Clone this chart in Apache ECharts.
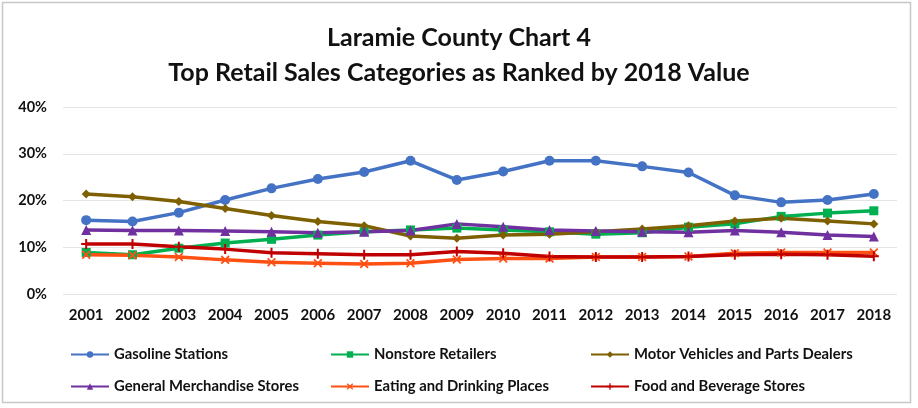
<!DOCTYPE html>
<html>
<head>
<meta charset="utf-8">
<script src="https://cdn.jsdelivr.net/npm/echarts@6/dist/echarts.min.js"></script>
<style>
  html, body { margin: 0; padding: 0; background: #fff; }
  #chart { width: 918px; height: 408px; }
</style>
</head>
<body>
<div id="chart"></div>
<script>
// Share of county retail sales by category, 2001-2018 (percent)
const years = ['2001','2002','2003','2004','2005','2006','2007','2008','2009','2010','2011','2012','2013','2014','2015','2016','2017','2018'];

const gasolineStations   = [15.8, 15.5, 17.4, 20.1, 22.6, 24.6, 26.1, 28.5, 24.4, 26.2, 28.5, 28.5, 27.3, 26.0, 21.1, 19.6, 20.1, 21.4];
const nonstoreRetailers  = [8.9, 8.4, 9.8, 10.9, 11.7, 12.6, 13.3, 13.7, 14.1, 13.7, 13.3, 12.8, 13.1, 14.3, 15.0, 16.6, 17.3, 17.8];
const motorVehicles      = [21.4, 20.8, 19.8, 18.3, 16.8, 15.5, 14.6, 12.4, 11.9, 12.6, 12.8, 13.3, 13.9, 14.6, 15.6, 16.2, 15.6, 15.0];
const generalMerchandise = [13.7, 13.6, 13.6, 13.5, 13.3, 13.1, 13.3, 13.6, 15.0, 14.4, 13.7, 13.5, 13.3, 13.2, 13.6, 13.2, 12.6, 12.3];
const eatingDrinking     = [8.4, 8.3, 7.9, 7.3, 6.8, 6.6, 6.4, 6.6, 7.4, 7.6, 7.6, 7.9, 7.9, 8.0, 8.7, 8.9, 8.9, 8.9];
const foodBeverage       = [10.7, 10.7, 10.1, 9.6, 8.8, 8.6, 8.4, 8.4, 9.1, 8.7, 8.0, 7.9, 7.9, 8.0, 8.4, 8.5, 8.4, 8.1];

const yTicks = [0, 10, 20, 30, 40];

const FONT = 'Lato, "Open Sans", sans-serif';

function crossPath(plus) {
  // small star-like glyphs for the X / + markers
  return plus
    ? 'path://M4,0 L6,0 L6,4 L10,4 L10,6 L6,6 L6,10 L4,10 L4,6 L0,6 L0,4 L4,4 Z'
    : 'path://M1.4,0 L5,3.6 L8.6,0 L10,1.4 L6.4,5 L10,8.6 L8.6,10 L5,6.4 L1.4,10 L0,8.6 L3.6,5 L0,1.4 Z';
}

const seriesDefs = [
  { name: 'Gasoline Stations', data: gasolineStations, color: '#4472C4', symbol: 'circle', size: 10 },
  { name: 'Nonstore Retailers', data: nonstoreRetailers, color: '#00B050', symbol: 'rect', size: 9 },
  { name: 'Motor Vehicles and Parts Dealers', data: motorVehicles, color: '#7F6000', symbol: 'diamond', size: 9 },
  { name: 'General Merchandise Stores', data: generalMerchandise, color: '#7030A0', symbol: 'triangle', size: 10 },
  { name: 'Eating and Drinking Places', data: eatingDrinking, color: '#FF5014', symbol: crossPath(false), size: 9 },
  { name: 'Food and Beverage Stores', data: foodBeverage, color: '#C00000', symbol: crossPath(true), size: 10 }
];

const legendPos = [
  { left: 65, top: 342 }, { left: 325, top: 342 }, { left: 585, top: 342 },
  { left: 65, top: 374 }, { left: 325, top: 374 }, { left: 585, top: 374 }
];

const chart = echarts.init(document.getElementById('chart'), null, { renderer: 'canvas' });

chart.setOption({
  backgroundColor: '#fff',
  animation: false,
  title: {
    text: 'Laramie County Chart 4\nTop Retail Sales Categories as Ranked by 2018 Value',
    left: 'center',
    top: 15,
    textStyle: { fontFamily: FONT, fontSize: 25, fontWeight: 'bold', color: '#111', lineHeight: 35 }
  },
  graphic: [{
    type: 'rect',
    shape: { x: 2.5, y: 2.5, width: 908, height: 400 },
    style: { fill: 'none', stroke: '#c8c8c8', lineWidth: 1.5 },
    silent: true
  }],
  legend: seriesDefs.map((s, i) => ({
    data: [s.name],
    left: legendPos[i].left,
    top: legendPos[i].top,
    itemWidth: 38,
    itemHeight: 8,
    itemGap: 4,
    textStyle: { fontFamily: FONT, fontSize: 14.8, fontWeight: 'bold', color: '#111' }
  })),
  grid: { left: 63, right: 21, top: 107, bottom: 114, containLabel: false },
  xAxis: {
    type: 'category',
    data: years,
    boundaryGap: true,
    axisLine: { show: false },
    axisTick: { show: false },
    axisLabel: { fontFamily: FONT, fontSize: 15, fontWeight: 'bold', color: '#111', margin: 14 }
  },
  yAxis: {
    type: 'value',
    min: yTicks[0],
    max: yTicks[yTicks.length - 1],
    interval: 10,
    axisLine: { show: false },
    axisTick: { show: false },
    splitLine: { lineStyle: { color: '#e4e4e4', width: 1 } },
    axisLabel: { fontFamily: FONT, fontSize: 14.5, fontWeight: 'bold', color: '#111', margin: 16,
                 formatter: v => v + '%' }
  },
  series: seriesDefs.map(s => ({
    name: s.name,
    type: 'line',
    data: s.data,
    symbol: s.symbol,
    symbolSize: s.size,
    showAllSymbol: true,
    lineStyle: { color: s.color, width: 3.5 },
    itemStyle: { color: s.color },
    emphasis: { disabled: true }
  }))
});
</script>
</body>
</html>
